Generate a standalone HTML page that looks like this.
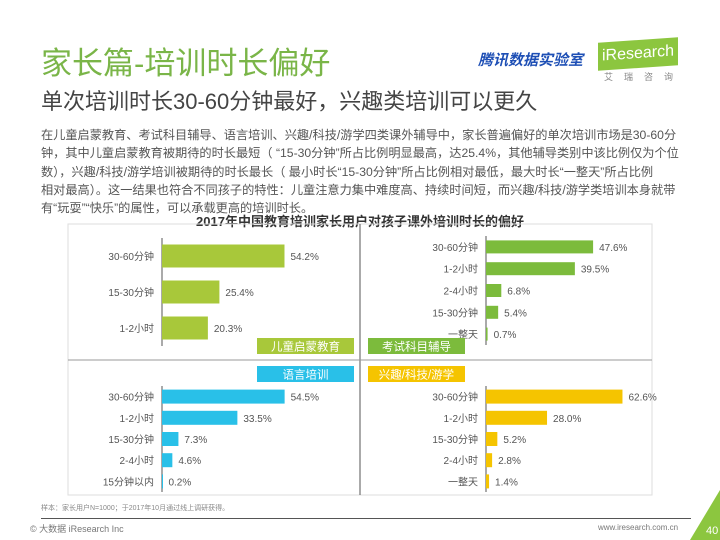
<!DOCTYPE html>
<html><head><meta charset="utf-8">
<style>
body{margin:0;width:720px;height:540px;overflow:hidden;background:#fff;font-family:"Liberation Sans","Noto Sans CJK SC",sans-serif;position:relative}
.a{position:absolute;white-space:nowrap}
.ln{position:absolute;left:41px;font-size:12.2px;color:#555;white-space:nowrap}
</style></head><body>
<div class="a" style="left:41px;top:38px;font-size:31px;color:#7ab548">家长篇-培训时长偏好</div>
<div class="a" style="left:478px;top:49px;font-size:15px;font-weight:bold;font-style:italic;color:#1e4fb5">腾讯数据实验室</div>
<div class="a" style="left:598px;top:40px;width:80px;height:28px;background:#8cc63f;color:#fff;font-size:16px;line-height:28px;text-align:center;transform:skewY(-4deg)">iResearch</div>
<div class="a" style="left:604px;top:70px;font-size:9px;color:#888;letter-spacing:11px">艾瑞咨询</div>
<div class="a" style="left:41px;top:84px;font-size:22px;color:#444">单次培训时长30-60分钟最好，兴趣类培训可以更久</div>
<div>
<div class="ln" style="top:125px">在儿童启蒙教育、考试科目辅导、语言培训、兴趣/科技/游学四类课外辅导中，家长普遍偏好的单次培训市场是30-60分</div>
<div class="ln" style="top:143px">钟，其中儿童启蒙教育被期待的时长最短（ “15-30分钟”所占比例明显最高，达25.4%，其他辅导类别中该比例仅为个位</div>
<div class="ln" style="top:162px">数），兴趣/科技/游学培训被期待的时长最长（ 最小时长“15-30分钟”所占比例相对最低，最大时长“一整天”所占比例</div>
<div class="ln" style="top:180px">相对最高）。这一结果也符合不同孩子的特性：儿童注意力集中难度高、持续时间短，而兴趣/科技/游学类培训本身就带</div>
<div class="ln" style="top:198px">有“玩耍”“快乐”的属性，可以承载更高的培训时长。</div>
</div>
<div class="a" style="left:0;width:720px;text-align:center;top:211px;font-size:13px;font-weight:bold;color:#333">2017年中国教育培训家长用户对孩子课外培训时长的偏好</div>
<svg class="a" style="left:0;top:0" width="720" height="540" id="c"></svg>
<div class="a" style="left:41px;top:503px;font-size:7px;color:#888">样本：家长用户N=1000；于2017年10月通过线上调研获得。</div>
<div class="a" style="left:41px;top:518px;width:650px;height:1px;background:#555"></div>
<div class="a" style="left:30px;top:522px;font-size:9px;color:#777">© 大数据 iResearch Inc</div>
<div class="a" style="left:598px;top:523px;font-size:8px;color:#777">www.iresearch.com.cn</div>
<svg class="a" style="left:690px;top:490px" width="30" height="50"><polygon points="30,0 30,50 0,50" fill="#8cc63f"/><text x="16" y="44" font-size="11" fill="#fff" font-family="Liberation Sans">40</text></svg>
<script>
const q1Cats=["30-60分钟","15-30分钟","1-2小时"];
const q1Vals=[54.2,25.4,20.3];
const q2Cats=["30-60分钟","1-2小时","2-4小时","15-30分钟","一整天"];
const q2Vals=[47.6,39.5,6.8,5.4,0.7];
const q3Cats=["30-60分钟","1-2小时","15-30分钟","2-4小时","15分钟以内"];
const q3Vals=[54.5,33.5,7.3,4.6,0.2];
const q4Cats=["30-60分钟","1-2小时","15-30分钟","2-4小时","一整天"];
const q4Vals=[62.6,28.0,5.2,2.8,1.4];
const svg=document.getElementById('c');
const NS='http://www.w3.org/2000/svg';
function mk(t,a){const e=document.createElementNS(NS,t);for(const k in a)e.setAttribute(k,a[k]);svg.appendChild(e);return e;}
let r=mk('rect',{x:68,y:224,width:584,height:271,fill:'none',stroke:'#ddd'});


let l=mk('line',{x1:360,y1:224,x2:360,y2:495,stroke:'#555'});


l=mk('line',{x1:68,y1:360,x2:652,y2:360,stroke:'#999'});


function panel(name,cats,vals,ax,y0,y1,color,bh,scale){
  const n=cats.length,step=(y1-y0)/n;
  const a=mk('line',{x1:ax,y1:y0,x2:ax,y2:y1,stroke:'#555'});
  
  
  cats.forEach((c,i)=>{
    const cy=y0+step*(i+0.5),w=vals[i]*scale;
    const b=mk('rect',{x:ax,y:cy-bh/2,width:Math.max(w,1),height:bh,fill:color});
    
    
    const t=mk('text',{x:ax-8,y:cy+4,'text-anchor':'end','font-size':10,fill:'#555'});t.textContent=c;
    
    
    const v=mk('text',{x:ax+w+6,y:cy+4,'font-size':10,fill:'#555'});v.textContent=vals[i].toFixed(1)+'%';
    
    
  });
}
panel('early-education',q1Cats,q1Vals,162,238,346,'#a8c83a',23,2.26);
panel('exam-tutoring',q2Cats,q2Vals,486,236,345,'#7cbb3c',13,2.25);
panel('language',q3Cats,q3Vals,162,386,492,'#29c0e8',14,2.25);
panel('interest',q4Cats,q4Vals,486,386,492,'#f5c400',14,2.18);
function tag(name,x,y,color,txt){
  const g=mk('rect',{x:x,y:y,width:97,height:16,fill:color});
  
  
  const t=mk('text',{x:x+48.5,y:y+12.5,'text-anchor':'middle','font-size':11.5,fill:'#fff'});t.textContent=txt;
  
  
}
tag('early-education',257,338,'#a8c83a','儿童启蒙教育');
tag('exam-tutoring',368,338,'#7cbb3c','考试科目辅导');
tag('language',257,366,'#29c0e8','语言培训');
tag('interest',368,366,'#f5c400','兴趣/科技/游学');
svg.querySelectorAll('text').forEach(t=>t.setAttribute('font-family','Liberation Sans, Noto Sans CJK SC, sans-serif'));
</script>
</body></html>
